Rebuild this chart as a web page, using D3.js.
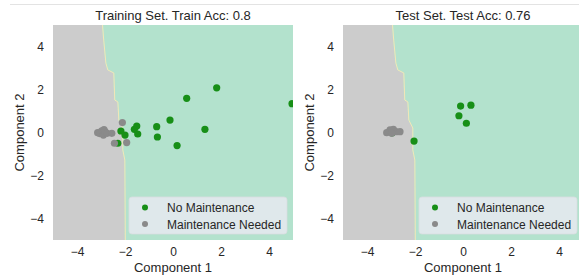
<!DOCTYPE html>
<html><head><meta charset="utf-8">
<script src="https://cdn.jsdelivr.net/npm/d3@7"></script>
<style>body{margin:0;background:#fff}svg{display:block;font-family:"Liberation Sans",Arial,sans-serif}</style>
</head><body>
<svg id="c" width="579" height="277"></svg>
<script>
// Decision boundary (x at given y), same classifier on both panels
const boundaryY = [5.0, 4.30, 3.23, 2.91, 2.77, 1.51, 1.42, 0.58, 0.21, -0.81, -1.28, -5.0];
const boundaryX = [-2.97, -2.92, -2.83, -2.75, -2.50, -2.46, -2.33, -2.29, -2.125, -2.125, -2.04, -2.02];

// Training set
const trainNoX = [-2.17, -2.0, -1.61, -1.51, -1.47, -0.68, -0.65, -0.125, 0.17, -2.30, 0.57, 1.82, 4.96, 1.33];
const trainNoY = [0.07, -0.12, 0.15, 0.30, -0.07, 0.27, -0.21, 0.58, -0.61, -0.50, 1.59, 2.08, 1.34, 0.15];
const trainYesX = [-2.11, -3.14, -3.06, -2.97, -2.90, -2.875, -2.83, -2.74, -2.55, -2.44, -1.93];
const trainYesY = [0.46, -0.01, -0.05, 0.08, -0.12, 0.14, 0.04, -0.04, -0.04, -0.50, -0.47];

// Test set
const testNoX = [-0.10, 0.33, -0.17, 0.14, -2.04, -2.96];
const testNoY = [1.23, 1.27, 0.78, 0.43, -0.40, -0.02];
const testYesX = [-3.18, -3.04, -2.90, -2.79, -2.625, -2.97];
const testYesY = [-0.01, 0.12, 0.15, 0.04, 0.04, -0.04];

const ticks = [-4, -2, 0, 2, 4];
const titles = ["Training Set. Train Acc: 0.8", "Test Set. Test Acc: 0.76"];
const legendLabels = ["No Maintenance", "Maintenance Needed"];
const colors = {green: "#b3e2cd", gray: "#cccccc", ptNo: "#178f17", ptYes: "#8a8a8a"};

const svg = d3.select("#c");
svg.append("line").attr("x1", 10).attr("x2", 579).attr("y1", 4.5).attr("y2", 4.5)
  .attr("stroke", "#e3e3e3").attr("stroke-width", 1);

const panels = [
  {x0: 53, title: titles[0], noX: trainNoX, noY: trainNoY, yesX: trainYesX, yesY: trainYesY},
  {x0: 343, title: titles[1], noX: testNoX, noY: testNoY, yesX: testYesX, yesY: testYesY}
];
const fmt = d => d < 0 ? "\u2212" + Math.abs(d) : String(d);

panels.forEach((p, i) => {
  const x = d3.scaleLinear().domain([-5, 5]).range([p.x0, p.x0 + 240]);
  const y = d3.scaleLinear().domain([-5, 5]).range([240, 25]);
  const g = svg.append("g");
  const cid = "clip" + i;
  g.append("clipPath").attr("id", cid).append("rect")
    .attr("x", x(-5)).attr("y", y(5)).attr("width", x(5) - x(-5)).attr("height", y(-5) - y(5));
  const pg = g.append("g").attr("clip-path", `url(#${cid})`);
  pg.append("rect").attr("x", x(-5)).attr("y", y(5)).attr("width", x(5) - x(-5)).attr("height", y(-5) - y(5))
    .attr("fill", colors.green);
  const pts = boundaryY.map((v, k) => [boundaryX[k], v]);
  const poly = [[-5, 5], ...pts, [-5, -5]];
  pg.append("path").attr("d", d3.line().x(d => x(d[0])).y(d => y(d[1]))(poly) + "Z").attr("fill", colors.gray);
  pg.append("path").attr("d", d3.line().x(d => x(d[0]) + 0.8).y(d => y(d[1]))(pts))
    .attr("fill", "none").attr("stroke", "#f5e6b8").attr("stroke-width", 1);

  pg.selectAll(".no").data(p.noX).enter().append("circle")
    .attr("cx", (d, k) => x(d)).attr("cy", (d, k) => y(p.noY[k])).attr("r", 3.6).attr("fill", colors.ptNo);
  pg.selectAll(".yes").data(p.yesX).enter().append("circle")
    .attr("cx", (d, k) => x(d)).attr("cy", (d, k) => y(p.yesY[k])).attr("r", 3.6).attr("fill", colors.ptYes);

  // axes
  const xa = g.append("g").attr("transform", `translate(0,${y(-5)})`)
    .call(d3.axisBottom(x).tickValues(ticks).tickSize(0).tickPadding(7.5).tickFormat(fmt));
  const ya = g.append("g").attr("transform", `translate(${x(-5)},0)`)
    .call(d3.axisLeft(y).tickValues(ticks).tickSize(0).tickPadding(9).tickFormat(fmt));
  [xa, ya].forEach(a => {
    a.select(".domain").remove();
    a.selectAll("text").attr("font-size", 12).attr("fill", "#262626").attr("font-family", "Liberation Sans, Arial, sans-serif");
  });

  g.append("text").attr("x", (x(-5) + x(5)) / 2).attr("y", 20).attr("text-anchor", "middle")
    .attr("font-size", 13).attr("fill", "#262626").text(p.title);
  g.append("text").attr("x", (x(-5) + x(5)) / 2).attr("y", 272).attr("text-anchor", "middle")
    .attr("font-size", 13).attr("fill", "#262626").text("Component 1");
  g.append("text").attr("transform", `translate(${p.x0 - 29},${(y(-5) + y(5)) / 2}) rotate(-90)`)
    .attr("text-anchor", "middle").attr("font-size", 13).attr("fill", "#262626").text("Component 2");

  // legend
  const lx = x(-5) + 76, ly = 197;
  const lg = g.append("g").attr("clip-path", `url(#${cid})`);
  lg.append("rect").attr("x", lx).attr("y", ly).attr("width", 158).attr("height", 37).attr("rx", 3)
    .attr("fill", "#eaeaf2").attr("fill-opacity", 0.8).attr("stroke", "#d8dde0").attr("stroke-width", 0.8);
  legendLabels.forEach((t, k) => {
    lg.append("circle").attr("cx", lx + 16).attr("cy", ly + 10.5 + k * 16.5).attr("r", 3)
      .attr("fill", k === 0 ? colors.ptNo : colors.ptYes);
    lg.append("text").attr("x", lx + 38).attr("y", ly + 15 + k * 16.5).attr("font-size", 12)
      .attr("fill", "#262626").text(t);
  });
});
</script>
</body></html>
